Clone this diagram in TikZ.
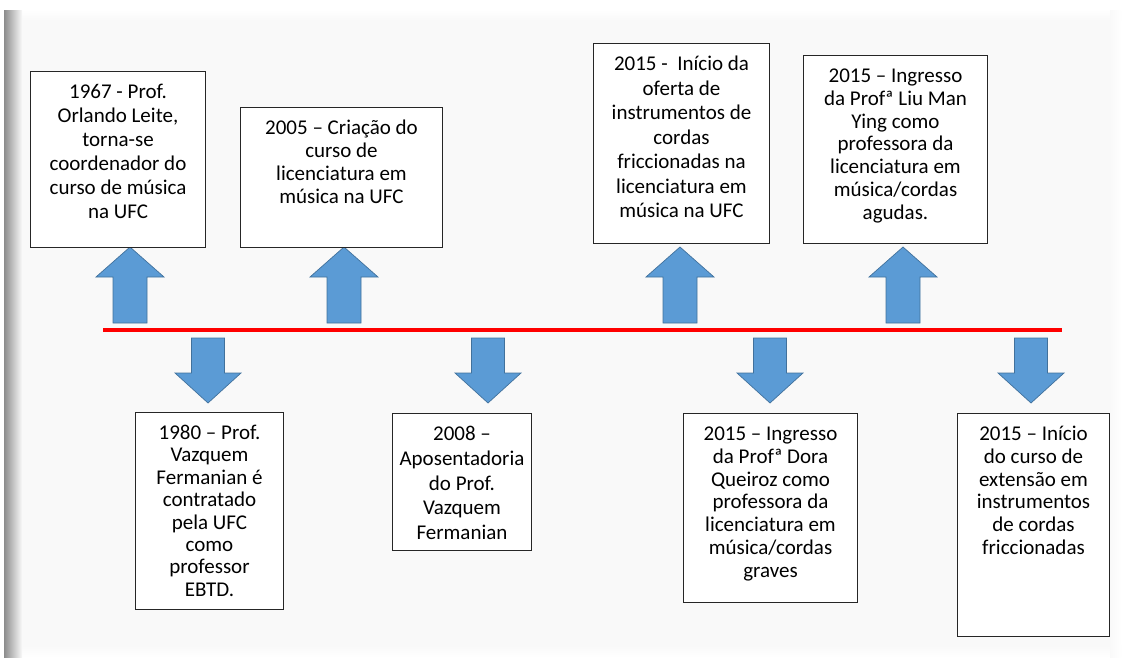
\documentclass[tikz,border=0pt]{standalone}
\usepackage{fontspec}
\setmainfont{Carlito}
\definecolor{arrowfill}{HTML}{5B9BD5}
\definecolor{arrowedge}{HTML}{41719C}
\definecolor{pagebg}{HTML}{F9F9F9}
\tikzset{
  evbox/.style={draw=black!85, line width=1pt, fill=white, inner sep=0pt, anchor=north west},
  blockarrow/.style={fill=arrowfill, draw=arrowedge, line width=0.7pt, line join=miter},
  timeline/.style={draw=red, line width=4pt}
}
\newcommand{\evtext}[4]{\parbox[t][#2][t]{#1}{\fontsize{21}{#3}\selectfont\centering\rule{0pt}{27pt}#4}}
\newcommand{\uparr}[1]{\draw[blockarrow] (#1-17,323) -- (#1-17,277) -- (#1-34,277) -- (#1,247) -- (#1+34,277) -- (#1+17,277) -- (#1+17,323) -- cycle;}
\newcommand{\dnarr}[1]{\draw[blockarrow] (#1-16.5,338) -- (#1+16.5,338) -- (#1+16.5,373) -- (#1+33,373) -- (#1,403) -- (#1-33,373) -- (#1-16.5,373) -- cycle;}
\begin{document}
\begin{tikzpicture}[x=1pt,y=-1pt]
\path[use as bounding box] (0,0) rectangle (1125,664);
% page background
\fill[white] (0,0) rectangle (1125,664);
\fill[pagebg] (6,10) rectangle (1121,657);
\shade[top color=white, bottom color=pagebg] (6,10) rectangle (1121,20);
\shade[top color=pagebg, bottom color=white] (6,645) rectangle (1121,657);
\shade[left color=black!45, right color=pagebg] (4,10) rectangle (22,657);
\shade[left color=pagebg, right color=white] (1110,10) rectangle (1121,657);

% timeline
\coordinate (tlA) at (103,330);
\coordinate (tlB) at (1062,330);
\draw[timeline] (tlA) -- (tlB);

% arrows
\uparr{130}
\uparr{344}
\uparr{680}
\uparr{903}
\dnarr{208}
\dnarr{488}
\dnarr{770}
\dnarr{1031}

% top events
\node[evbox] (e1967) at (30,71) {\evtext{175pt}{176pt}{24}{1967 - Prof.\\Orlando Leite,\\torna-se\\coordenador do\\curso de música\\na UFC}};
\node[evbox] (e2005) at (240,107) {\evtext{202pt}{140pt}{23}{2005 – Criação do\\curso de\\licenciatura em\\música na UFC}};
\node[evbox] (e2015a) at (593,43) {\evtext{176pt}{200pt}{24.5}{2015 -\ \ Início da\\oferta de\\instrumentos de\\cordas\\friccionadas na\\licenciatura em\\música na UFC}};
\node[evbox] (e2015b) at (803,55) {\evtext{184pt}{188pt}{22.8}{2015 – Ingresso\\da Profª Liu Man\\Ying como\\professora da\\licenciatura em\\música/cordas\\agudas.}};

% bottom events
\node[evbox] (e1980) at (135,412) {\evtext{148pt}{197pt}{22.4}{1980 – Prof.\\Vazquem\\Fermanian é\\contratado\\pela UFC\\como\\professor\\EBTD.}};
\node[evbox] (e2008) at (392,413) {\evtext{139pt}{137pt}{24.8}{2008 –\\Aposentadoria\\do Prof.\\Vazquem\\Fermanian}};
\node[evbox] (e2015c) at (683,413) {\evtext{174pt}{189pt}{22.8}{2015 – Ingresso\\da Profª Dora\\Queiroz como\\professora da\\licenciatura em\\música/cordas\\graves}};
\node[evbox] (e2015d) at (957,413) {\evtext{152pt}{223pt}{22.8}{2015 – Início\\do curso de\\extensão em\\instrumentos\\de cordas\\friccionadas}};
\end{tikzpicture}
\end{document}
